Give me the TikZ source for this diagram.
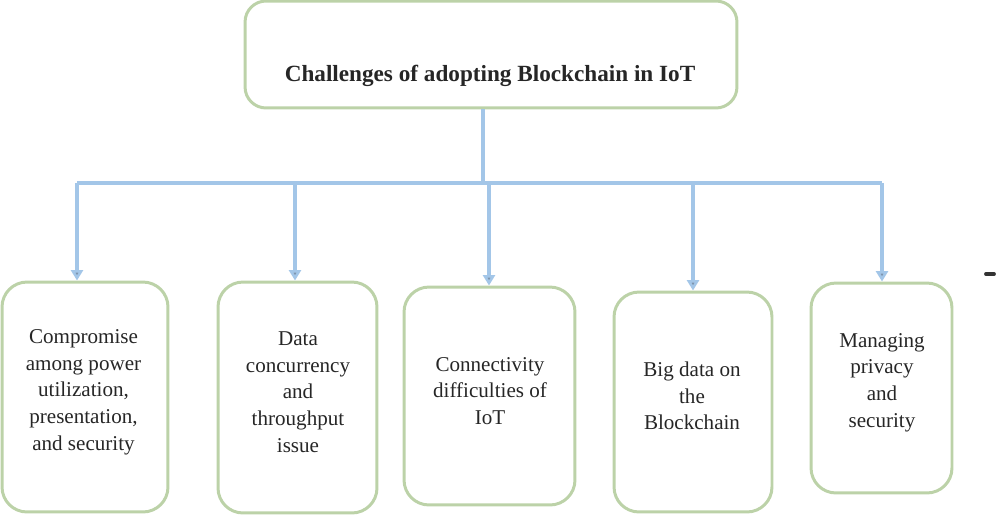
\documentclass[tikz,border=0pt]{standalone}
\usepackage{fontspec}
\setmainfont{Liberation Serif}
\usepackage{xcolor}
\definecolor{sagegreen}{HTML}{BCD2A8}
\definecolor{skyblue}{HTML}{A3C6E8}
\definecolor{tipblue}{HTML}{7E95AE}
\usetikzlibrary{arrows.meta,positioning}
\tikzset{
  cb/.style={draw=sagegreen, line width=1.7pt, rounded corners=0.5cm, inner sep=0pt},
  ctop/.style={cb, rounded corners=0.42cm, minimum width=9.84cm, minimum height=2.14cm},
  ctxt/.style={align=center, font=\fontsize{12}{15.2}\selectfont, text=black!85, inner sep=0pt},
  cttl/.style={ctxt, font=\bfseries\fontsize{13.2}{16}\selectfont},
  bus/.style={draw=skyblue, line width=2.1pt},
  ar/.style={-{Triangle[length=2.1mm, width=2.4mm, fill=tipblue]}, draw=skyblue, line width=2.1pt},
}

\begin{document}
\begin{tikzpicture}[x=0.02cm, y=-0.02cm]
  \useasboundingbox (0,0) rectangle (1000,531);
  \node[ctop] (top) at (491,54.5) {};
  \node[cttl] (title) at (490,76) {Challenges of adopting Blockchain in IoT};
  \node[cb, minimum width=3.32cm, minimum height=4.6cm] (b1) at (85,397) {};
  \node[cb, minimum width=3.18cm, minimum height=4.62cm] (b2) at (297.5,397.5) {};
  \node[cb, minimum width=3.42cm, minimum height=4.36cm] (b3) at (489.5,396) {};
  \node[cb, minimum width=3.16cm, minimum height=4.4cm] (b4) at (693,402) {};
  \node[cb, minimum width=2.82cm, minimum height=4.2cm] (b5) at (881.5,388) {};
  \node[ctxt] (t1) at (83.5,392) {Compromise\\among power\\utilization,\\presentation,\\and security};
  \node[ctxt] (t2) at (298,392) {Data\\concurrency\\and\\throughput\\issue};
  \node[ctxt] (t3) at (490,391) {Connectivity\\difficulties of\\IoT};
  \node[ctxt] (t4) at (692,396) {Big data on\\the\\Blockchain};
  \node[ctxt] (t5) at (882,382.5) {Managing\\privacy\\and\\security};
  \coordinate (hub) at (483,183);
  \coordinate (j1) at (77,183);
  \coordinate (j2) at (295,183);
  \coordinate (j3) at (489,183);
  \coordinate (j4) at (693,183);
  \coordinate (j5) at (882,183);
  \draw[bus] (top.south -| hub) -- (hub);
  \draw[bus] (j1) -- (j5);
  \draw[ar] (j1) -- (j1 |- b1.north);
  \draw[ar] (j2) -- (j2 |- b2.north);
  \draw[ar] (j3) -- (j3 |- b3.north);
  \draw[ar] (j4) -- (j4 |- b4.north);
  \draw[ar] (j5) -- (j5 |- b5.north);
  % stray mark at the right margin
  \draw[black!80, line width=2.2pt, line cap=round] (986,274) -- (994,274);
\end{tikzpicture}
\end{document}
